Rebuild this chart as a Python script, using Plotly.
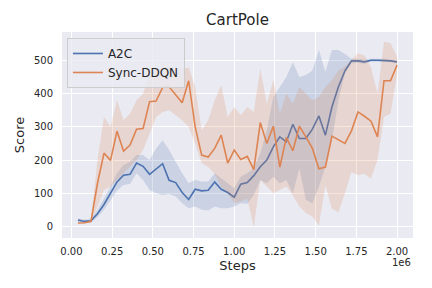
import plotly.graph_objects as go

steps = [i * 40000 for i in range(1, 51)]

a2c_mean = [19, 15, 17, 38, 66, 99, 134, 154, 157, 191, 181, 157, 173, 189, 139, 132, 102, 81, 112, 107,
            109, 134, 112, 102, 88, 127, 132, 153, 180, 200, 240, 270, 255, 308, 265, 265, 293, 333, 275, 360,
            421, 469, 499, 499, 496, 501, 501, 501, 499, 496]
a2c_upper = [24, 20, 22, 50, 85, 120, 160, 185, 195, 215, 215, 200, 235, 260, 230, 195, 160, 130, 140, 135,
             135, 160, 145, 130, 115, 150, 160, 175, 220, 290, 390, 420, 450, 495, 450, 456, 470, 532, 466, 532,
             532, 520, 505, 505, 502, 505, 505, 505, 502, 500]
a2c_lower = [14, 10, 12, 28, 50, 78, 108, 125, 128, 160, 140, 110, 100, 95, 98, 90, 70, 55, 60, 50,
             48, 60, 55, 55, 60, 70, 68, 95, 140, 130, 150, 130, 140, 100, 175, 80, 70, 120, 180, 260,
             380, 460, 492, 493, 490, 497, 497, 497, 496, 492]

ddqn_mean = [10, 11, 15, 130, 221, 199, 287, 227, 245, 293, 295, 376, 378, 419, 421, 398, 373, 439, 300, 215,
             209, 235, 275, 191, 230, 202, 211, 171, 313, 250, 302, 179, 268, 228, 302, 270, 235, 174, 179, 272,
             260, 250, 288, 345, 332, 317, 270, 439, 439, 486]
ddqn_upper = [12, 13, 20, 200, 330, 300, 381, 320, 340, 380, 400, 460, 470, 481, 480, 478, 475, 479, 420, 290,
              320, 380, 426, 330, 360, 335, 360, 345, 476, 370, 441, 340, 400, 370, 420, 400, 380, 390, 420, 441,
              470, 481, 500, 522, 515, 480, 400, 557, 552, 511]
ddqn_lower = [8, 9, 10, 60, 109, 120, 140, 160, 180, 200, 230, 280, 330, 345, 350, 335, 320, 300, 250, 190,
              179, 159, 120, 100, 70, 75, 84, -2, 139, 120, 100, 110, 120, 94, 60, 40, 30, 3, 124, 53,
              43, 100, 164, 154, 159, 144, 200, 330, 340, 460]

x_tickvals = [0, 250000, 500000, 750000, 1000000, 1250000, 1500000, 1750000, 2000000]
x_ticktext = ["0.00", "0.25", "0.50", "0.75", "1.00", "1.25", "1.50", "1.75", "2.00"]
y_tickvals = [0, 100, 200, 300, 400, 500]

BLUE = "#4C72B0"
ORANGE = "#DD8452"
FONT = "DejaVu Sans"
TXT = "#262626"

fig = go.Figure()

def add_series(name, mean, upper, lower, color, fill):
    fig.add_trace(go.Scatter(x=steps, y=upper, mode="lines", line=dict(width=0, color=color),
                             showlegend=False, hoverinfo="skip"))
    fig.add_trace(go.Scatter(x=steps, y=lower, mode="lines", line=dict(width=0, color=color),
                             fill="tonexty", fillcolor=fill, showlegend=False, hoverinfo="skip"))
    fig.add_trace(go.Scatter(x=steps, y=mean, mode="lines", name=name,
                             line=dict(width=1.6, color=color)))

add_series("A2C", a2c_mean, a2c_upper, a2c_lower, BLUE, "rgba(76,114,176,0.2)")
add_series("Sync-DDQN", ddqn_mean, ddqn_upper, ddqn_lower, ORANGE, "rgba(221,132,82,0.2)")

fig.update_layout(
    width=432, height=288,
    margin=dict(l=62, r=19, t=32, b=50, pad=0, autoexpand=False),
    paper_bgcolor="white",
    plot_bgcolor="#EAEAF2",
    font=dict(family=FONT, color=TXT, size=10),
    title=dict(text="CartPole", x=0.5, xref="paper", xanchor="center",
               y=1 - 20 / 288, yref="container", yanchor="middle",
               font=dict(size=15, family=FONT, color=TXT)),
    showlegend=True,
    legend=dict(x=0.014, y=0.971, xanchor="left", yanchor="top", traceorder="normal",
                bgcolor="rgba(234,234,242,0.8)", bordercolor="#CCCCCC", borderwidth=1,
                font=dict(size=12, family=FONT, color=TXT),
                tracegroupgap=2, itemwidth=30),
    xaxis=dict(range=[-58000, 2098000], tickvals=x_tickvals, ticktext=x_ticktext,
               showgrid=True, gridcolor="white", gridwidth=1, zeroline=False,
               showline=False, ticks="", ticklabelstandoff=6, automargin=False,
               title=dict(text="Steps", font=dict(size=13, family=FONT, color=TXT), standoff=4),
               tickfont=dict(size=10, family=FONT, color=TXT)),
    yaxis=dict(range=[-35, 586], tickvals=y_tickvals,
               showgrid=True, gridcolor="white", gridwidth=1, zeroline=False,
               showline=False, ticks="", ticklabelstandoff=8, automargin=False,
               title=dict(text="Score", font=dict(size=13, family=FONT, color=TXT), standoff=6),
               tickfont=dict(size=10, family=FONT, color=TXT)),
)

fig.add_annotation(text="1e6", xref="paper", yref="paper", x=1.0, y=-0.12,
                   xanchor="right", yanchor="middle", showarrow=False,
                   font=dict(size=10, family=FONT, color=TXT))

fig.write_html("out.html", config={"displayModeBar": False},
               post_script="document.body.style.margin='0px';document.body.style.padding='0px';")
